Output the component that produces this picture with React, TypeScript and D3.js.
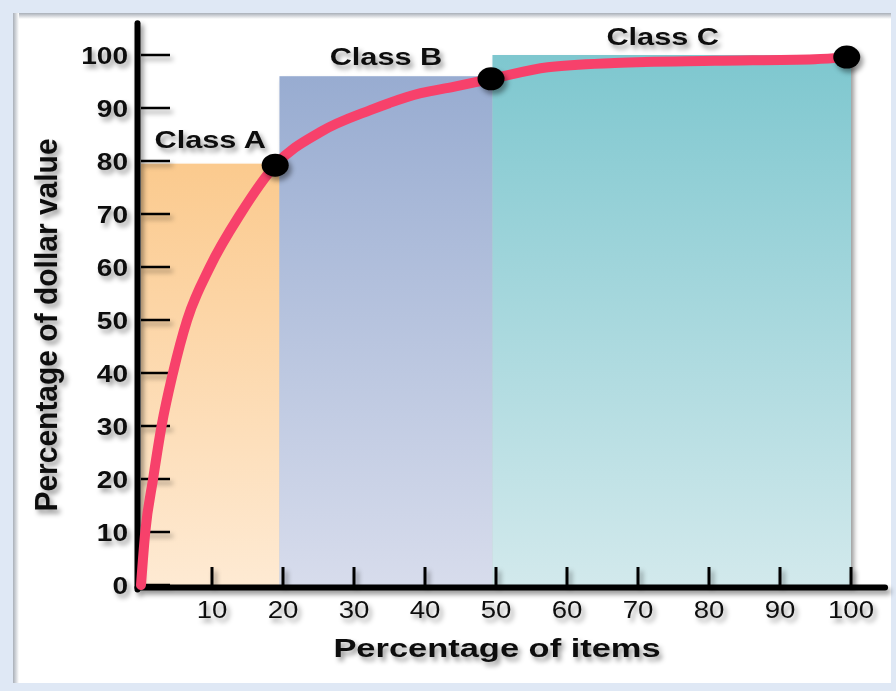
import React from 'react';
import * as d3 from 'd3';

// ABC analysis: cumulative share of dollar value vs share of items
const itemPct = [0, 0.6, 1.7, 2.9, 4.5, 6.5, 9.7, 14, 18.9, 25.3, 32.3, 39.4, 44, 49.3, 57.3, 66.7, 80.8, 94.9, 99.4];
const valuePct = [0, 10, 20, 30, 40, 50, 60, 70, 79.2, 85.5, 89.6, 92.8, 94, 95.5, 97.7, 98.5, 98.9, 99.2, 99.6];

// class breakpoints (black dots)
const dotItems = [18.9, 49.3, 99.4];
const dotValues = [79.2, 95.5, 99.6];

// class bands
const classNames = ['Class A', 'Class B', 'Class C'];
const classFrom = [0, 19.5, 49.5];
const classTo = [19.5, 49.5, 100];
const classTop = [79.5, 96, 100];

const xTicks = [10, 20, 30, 40, 50, 60, 70, 80, 90, 100];
const yTicks = [0, 10, 20, 30, 40, 50, 60, 70, 80, 90, 100];

const W = 896;
const H = 691;
const FONT = "'Liberation Sans', Arial, Helvetica, sans-serif";

// band colours, top -> bottom
const bandTop = ['#fbca8e', '#98acd1', '#7ec7cf'];
const bandBottom = ['#feead3', '#d7dcec', '#d2e9ec'];

const x = d3.scaleLinear().domain([0, 100]).range([141, 851]);
const y = d3.scaleLinear().domain([0, 100]).range([585, 55]);

const line = d3
  .line<number>()
  .x((_, i) => x(itemPct[i]))
  .y((d) => y(d))
  .curve(d3.curveMonotoneX);

// stretched text, the original art is wider than the font
const SText = ({ tx, ty, sx = 1, anchor = 'start', size, weight = 'bold', children }: any) => (
  <text
    transform={`translate(${tx},${ty}) scale(${sx},1)`}
    textAnchor={anchor}
    fontSize={size}
    fontWeight={weight}
    fontFamily={FONT}
    fill="#111"
  >
    {children}
  </text>
);

export default function App() {
  const axisX = x(0) - 3.5;
  const axisY = y(0) + 2.5;
  const labelDx = [0, 0, -9];
  const labelDy = [-16, -11, -10];

  return (
    <svg width={W} height={H} style={{ position: 'absolute', left: 0, top: 0 }}>
      <defs>
        <filter id="shadow" x="-10%" y="-10%" width="130%" height="130%">
          <feDropShadow dx="3" dy="4" stdDeviation="2.5" floodColor="#000" floodOpacity="0.4" />
        </filter>
        {classNames.map((c, i) => (
          <linearGradient key={c} id={`band${i}`} x1="0" y1="0" x2="0" y2="1">
            <stop offset="0%" stopColor={bandTop[i]} />
            <stop offset="100%" stopColor={bandBottom[i]} />
          </linearGradient>
        ))}
        <linearGradient id="edgeTop" x1="0" y1="0" x2="0" y2="1">
          <stop offset="0%" stopColor="#a9afb8" />
          <stop offset="100%" stopColor="#ffffff" />
        </linearGradient>
        <linearGradient id="edgeLeft" x1="0" y1="0" x2="1" y2="0">
          <stop offset="0%" stopColor="#a9afb8" />
          <stop offset="100%" stopColor="#ffffff" />
        </linearGradient>
      </defs>

      {/* frame */}
      <rect x={0} y={0} width={W} height={H} fill="#dfe8f5" />
      <rect x={13} y={13} width={878} height={670} fill="#ffffff" />
      <rect x={13} y={13} width={878} height={6} fill="url(#edgeTop)" />
      <rect x={13} y={13} width={6} height={670} fill="url(#edgeLeft)" />

      {/* class bands */}
      <g filter="url(#shadow)">
        {classNames.map((c, i) => (
          <rect
            key={c}
            x={x(classFrom[i])}
            y={y(classTop[i])}
            width={x(classTo[i]) - x(classFrom[i])}
            height={y(0) - y(classTop[i])}
            fill={`url(#band${i})`}
          />
        ))}
      </g>

      {/* axes */}
      <g filter="url(#shadow)" stroke="#000">
        {yTicks.map((t) => (
          <line key={t} x1={x(0)} x2={x(0) + 29} y1={y(t)} y2={y(t)} strokeWidth={2.5} />
        ))}
        {xTicks.map((t) => (
          <line key={t} x1={x(t)} x2={x(t)} y1={axisY} y2={y(0) - 18} strokeWidth={3} />
        ))}
        <line x1={axisX} x2={axisX} y1={y(106)} y2={axisY + 2} strokeWidth={6} strokeLinecap="round" />
        <line x1={axisX} x2={x(104.8)} y1={axisY} y2={axisY} strokeWidth={6} strokeLinecap="round" />
      </g>

      {/* labels */}
      <g filter="url(#shadow)">
        {yTicks.map((t) => (
          <SText key={t} tx={x(0) - 13} ty={y(t) + 8.5} sx={1.17} anchor="end" size={24}>
            {t}
          </SText>
        ))}
        {xTicks.map((t) => (
          <SText key={t} tx={x(t)} ty={618} sx={1.15} anchor="middle" size={24} weight="normal">
            {t}
          </SText>
        ))}
        {classNames.map((c, i) => (
          <SText
            key={c}
            tx={x((classFrom[i] + classTo[i]) / 2) + labelDx[i]}
            ty={y(classTop[i]) + labelDy[i]}
            sx={1.28}
            anchor="middle"
            size={24}
          >
            {c}
          </SText>
        ))}
        <SText tx={497} ty={657} sx={1.3} anchor="middle" size={26.5}>
          Percentage of items
        </SText>
        <text
          transform="translate(57,325) rotate(-90) scale(1,1.07)"
          textAnchor="middle"
          fontSize={30}
          fontWeight="bold"
          fontFamily={FONT}
          fill="#111"
        >
          Percentage of dollar value
        </text>
      </g>

      {/* cumulative curve */}
      <path
        d={line(valuePct) || ''}
        fill="none"
        stroke="#f7416b"
        strokeWidth={10}
        strokeLinecap="round"
        strokeLinejoin="round"
      />
      <g filter="url(#shadow)">
        {dotItems.map((d, i) => (
          <ellipse key={d} cx={x(d)} cy={y(dotValues[i])} rx={13.5} ry={11.5} fill="#000" />
        ))}
      </g>
    </svg>
  );
}
